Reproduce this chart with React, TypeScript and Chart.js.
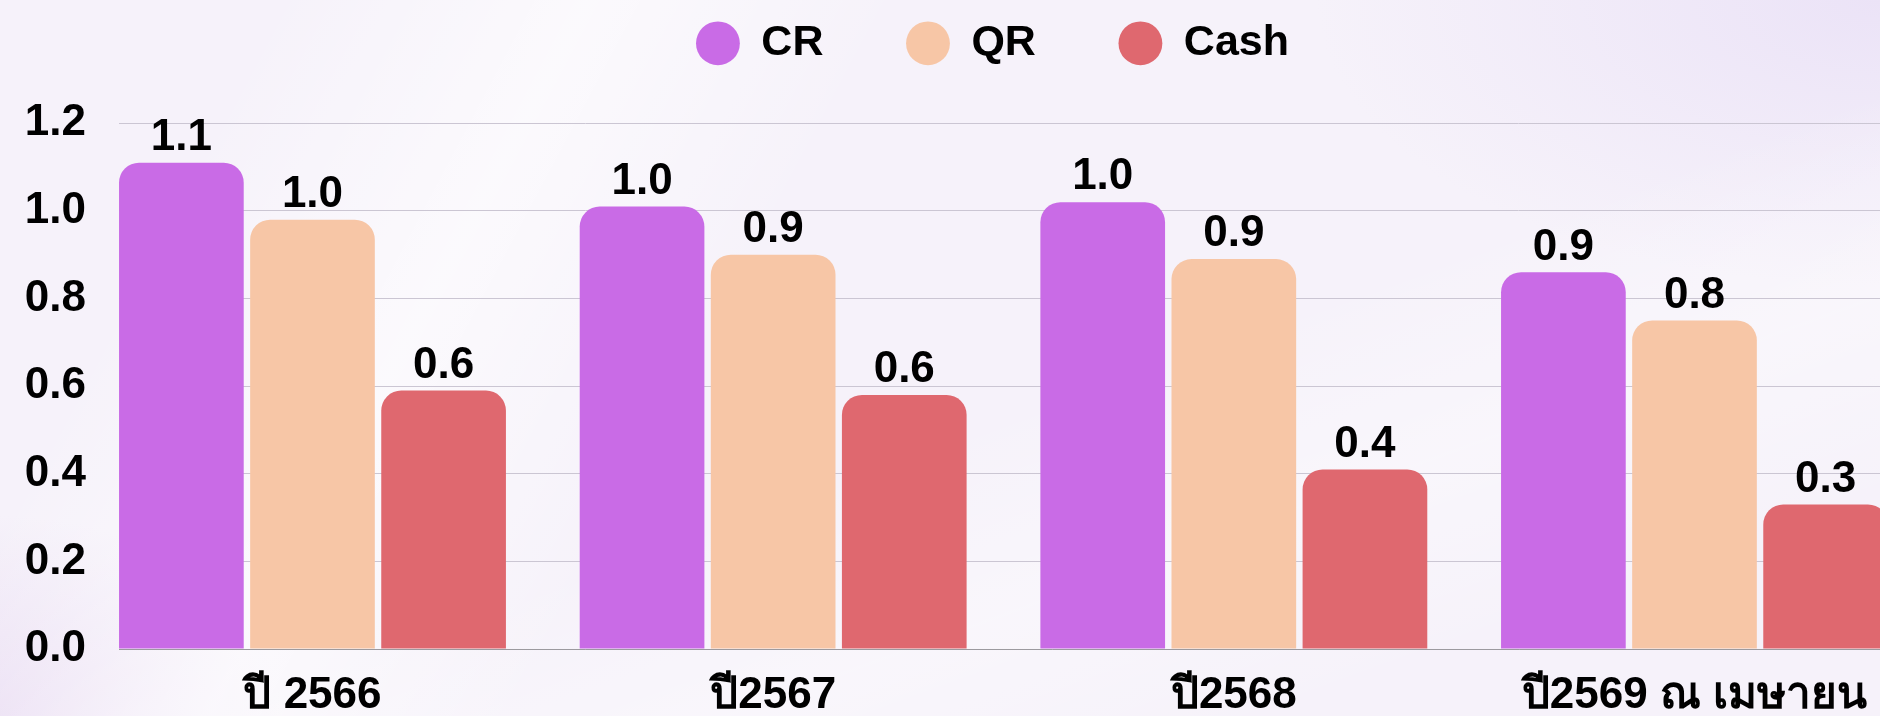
import React, { useEffect, useRef } from 'react';
import { Chart, registerables } from 'chart.js';

Chart.register(...registerables);

// ---- data ----
const categories = ['ปี 2566', 'ปี2567', 'ปี2568', 'ปี2569 ณ เมษายน'];
const seriesNames = ['CR', 'QR', 'Cash'];
const crValues = [1.11, 1.01, 1.02, 0.86];
const qrValues = [0.98, 0.9, 0.89, 0.75];
const cashValues = [0.59, 0.58, 0.41, 0.33];
const yTickValues = [0, 0.2, 0.4, 0.6, 0.8, 1.0, 1.2];
const seriesColors = ['#C96BE6', '#F7C6A6', '#DF686F'];

// ---- layout constants ----
const CANVAS_W = 1985;
const CANVAS_H = 716;
const FONT = "'Liberation Sans', Arial, Helvetica, sans-serif";
const FS = 43;
const TICK_FS = 44;
const X_MIN = -0.42;
const X_MAX = 3.6306;

const valueLabels = {
  id: 'valueLabels',
  afterDatasetsDraw(chart: any) {
    const ctx = chart.ctx;
    ctx.save();
    ctx.font = `bold ${TICK_FS}px ${FONT}`;
    ctx.fillStyle = '#000';
    ctx.textAlign = 'center';
    ctx.textBaseline = 'alphabetic';
    chart.data.datasets.forEach((ds: any, di: number) => {
      const meta = chart.getDatasetMeta(di);
      meta.data.forEach((el: any, i: number) => {
        const v = ds.data[i].y as number;
        ctx.fillText(v.toFixed(1), el.x, el.y - 12.7);
      });
    });
    ctx.restore();
  },
};

export default function App() {
  const ref = useRef<HTMLCanvasElement | null>(null);

  useEffect(() => {
    if (!ref.current) return;
    const seriesValues = [crValues, qrValues, cashValues];
    const chart = new Chart(ref.current, {
      type: 'bar',
      data: {
        datasets: seriesNames.map((name, si) => ({
          label: name,
          data: seriesValues[si].map((v, i) => ({ x: i, y: v })),
          backgroundColor: seriesColors[si],
          borderWidth: 0,
          borderRadius: 20,
          borderSkipped: 'start',
          categoryPercentage: 0.8538,
          barPercentage: 0.951,
        })),
      },
      options: {
        responsive: false,
        animation: false,
        devicePixelRatio: 1,
        layout: { padding: { top: -60.8, left: 0, right: 0, bottom: 0 } },
        plugins: {
          legend: {
            position: 'top',
            align: 'center',
            labels: {
              usePointStyle: true,
              pointStyle: 'circle',
              boxHeight: 31,
              pointStyleWidth: 43.84,
              padding: 82.6,
              color: '#000',
              font: { family: FONT, size: FS, weight: 'bold' },
            },
          },
          subtitle: {
            display: true,
            text: '',
            position: 'top',
            weight: 500,
            font: { size: 10, lineHeight: 1 },
            padding: { top: 38.5, bottom: 0 },
          },
          tooltip: { enabled: false },
        },
        scales: {
          x: {
            type: 'linear',
            min: X_MIN,
            max: X_MAX,
            offset: false,
            afterBuildTicks: (s: any) => {
              s.ticks = categories.map((_, i) => ({ value: i }));
            },
            afterFit: (s: any) => {
              s.height = 67;
            },
            grid: { display: true, drawOnChartArea: false, drawTicks: false, offset: false },
            border: { display: true, color: '#9c9a9f', width: 1 },
            ticks: {
              autoSkip: false,
              maxRotation: 0,
              minRotation: 0,
              padding: 20.4,
              color: '#000',
              font: { family: FONT, size: TICK_FS, weight: 'bold' },
              callback: (_v: any, index: number) => categories[index],
            },
          },
          y: {
            min: 0,
            max: 1.2,
            afterBuildTicks: (s: any) => {
              s.ticks = yTickValues.map((v) => ({ value: v }));
            },
            afterFit: (s: any) => {
              s.width = 119;
            },
            grid: { color: '#cbc6d3', lineWidth: 1, drawTicks: false },
            border: { display: false },
            ticks: {
              padding: 33,
              color: '#000',
              font: { family: FONT, size: TICK_FS, weight: 'bold' },
              callback: (v: any) => Number(v).toFixed(1),
            },
          },
        },
      },
      plugins: [valueLabels],
    } as any);
    return () => chart.destroy();
  }, []);

  return (
    <div
      style={{
        position: 'fixed',
        left: 0,
        top: 0,
        width: '100vw',
        height: '100vh',
        overflow: 'hidden',
        background:
          'linear-gradient(118deg, rgba(255,255,255,0) 12%, rgba(255,255,255,0.6) 26%, rgba(255,255,255,0) 40%),' +
          'linear-gradient(160deg, rgba(255,255,255,0) 55%, rgba(255,255,255,0.35) 70%, rgba(255,255,255,0) 85%),' +
          'radial-gradient(ellipse 30% 40% at 100% 0%, rgba(228,217,245,0.6), rgba(228,217,245,0) 100%),' +
          'radial-gradient(ellipse 15% 28% at 0% 100%, rgba(232,218,242,0.85), rgba(232,218,242,0) 100%),' +
          '#f6f2fa',
      }}
    >
      <canvas
        ref={ref}
        width={CANVAS_W}
        height={CANVAS_H}
        style={{ position: 'absolute', left: 0, top: 0, width: CANVAS_W, height: CANVAS_H, display: 'block' }}
      />
    </div>
  );
}
